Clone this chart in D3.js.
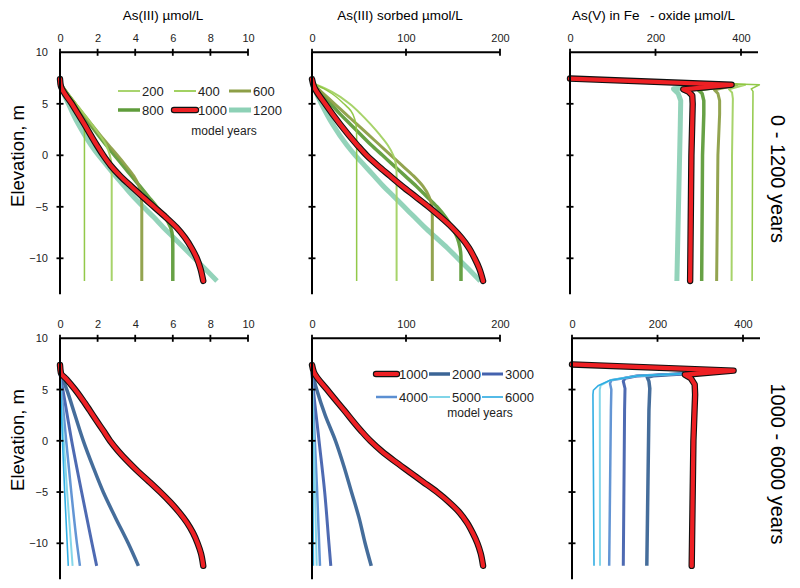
<!DOCTYPE html>
<html><head><meta charset="utf-8">
<script src="https://cdn.jsdelivr.net/npm/d3@7"></script>
<style>
html,body{margin:0;padding:0;background:#fff;}
svg{display:block;font-family:"Liberation Sans",Arial,sans-serif;}
</style></head>
<body>
<svg id="c" width="800" height="588"></svg>
<script>
// ---------- data ----------
const yearsEarly = [200, 400, 600, 800, 1000, 1200];
const yearsLate = [1000, 2000, 3000, 4000, 5000, 6000];
const elevTicks = [10, 5, 0, -5, -10];
const as3Ticks = [0, 2, 4, 6, 8, 10];
const sorbTicks = [0, 100, 200];
const feTicks = [0, 200, 400];

// [elevation m, value] pairs, one array per model year (order = yearsEarly)
const as3Early = [
  [[7.0,0],[6,0.42],[5,0.82],[4,1.12],[3,1.26],[2.2,1.3],[-12.2,1.3]],
  [[7.0,0],[6,0.42],[5,0.85],[4,1.28],[3,1.7],[2,2.1],[1,2.45],[0,2.65],[-1,2.74],[-2,2.75],[-12.2,2.75]],
  [[7.0,0],[6,0.4],[5,0.82],[4,1.25],[3,1.68],[2,2.12],[1,2.58],[0,3.05],[-1,3.5],[-2,3.92],[-3,4.2],[-4,4.32],[-5,4.35],[-12.2,4.35]],
  [[7.0,0],[6,0.38],[5,0.78],[4,1.18],[3,1.6],[2,2.02],[1,2.45],[0,2.9],[-1,3.35],[-2,3.8],[-3,4.25],[-4,4.7],[-5,5.15],[-6,5.58],[-7,5.88],[-8,5.99],[-9,6.0],[-12.2,6.0]],
  [[7.4,0],[6.7,0.05],[5,0.63],[3,1.3],[1,1.95],[0,2.3],[-1,2.7],[-2,3.2],[-3,3.78],[-4,4.38],[-5,5.0],[-6,5.62],[-7,6.2],[-8,6.65],[-9,7.0],[-10,7.28],[-11,7.47],[-12.2,7.62]],
  [[7.0,0],[6,0.2],[5,0.45],[4,0.7],[3,0.98],[2,1.3],[1,1.65],[0,2.05],[-1,2.5],[-2,2.95],[-3,3.42],[-4,3.9],[-5,4.43],[-6,4.98],[-7,5.5],[-8,6.05],[-9,6.6],[-10,7.15],[-11,7.7],[-12.2,8.35]]
];
const sorbEarly = [
  [[7,0],[6.5,12],[6,21],[5,34],[4.3,41.5],[3.5,45.5],[2.5,47.3],[1.5,47.5],[-12.2,47.5]],
  [[7,0],[6.5,14],[5.8,28],[5,40],[4,52],[3,62.5],[2,72],[1,80.5],[0,86.5],[-1,89.5],[-2,90],[-12.2,90]],
  [[7,0],[6,12],[5,24],[4,36],[3,48],[2,60],[1,72],[0,84],[-1,96],[-2,108],[-3,118],[-4,124.5],[-5,127.5],[-6,128],[-12.2,128]],
  [[7,0],[6,10],[5,20],[4,30],[3,41],[2,52],[1,63],[0,75],[-1,87],[-2,99],[-3,111],[-4,122],[-5,133],[-6,142],[-7,149],[-8,154.5],[-9,157.5],[-10,158.5],[-12.2,158.5]],
  [[7.4,0],[6.7,2],[5,14],[3,30],[1,48],[0,58],[-1,70],[-2,83],[-3,96],[-4,110],[-5,124],[-6,137],[-7,149],[-8,159],[-9,167],[-10,173],[-11,178],[-12.2,182]],
  [[7,0],[5,10],[3,22],[1,37],[0,46],[-1,56],[-2,66],[-3,76],[-4,87],[-5,98],[-6,109],[-7,120],[-8,132],[-9,144],[-10,155],[-11,166],[-12.2,179]]
];
const feEarly = [
  [[7.45,0],[6.85,443],[6.45,424],[6.2,428],[5.6,428],[0,427],[-12.2,426]],
  [[7.45,0],[6.85,410],[6.4,372],[6.1,379],[5.5,381],[0,379],[-12.2,378]],
  [[7.45,0],[6.85,390],[6.35,338],[6.0,346],[5.3,350],[4,350],[0,346],[-12.2,343]],
  [[7.45,0],[6.85,382],[6.35,300],[6.0,309],[5.3,313],[4,313],[0,310],[-12.2,308]],
  [[7.45,0],[6.85,378],[6.4,265],[6.15,278],[5.8,286],[5,287],[0,284],[-12.2,281]],
  [[7.45,0],[6.85,375],[6.45,242],[6.0,253],[5.3,259],[3,258],[-12.2,250]]
];
// order = yearsLate
const as3Late = [
  [[7.4,0],[6.6,0.05],[6,0.35],[5,0.8],[4,1.2],[3,1.57],[2,1.93],[1,2.3],[0,2.66],[-1,3.1],[-2,3.6],[-3,4.15],[-4,4.75],[-5,5.33],[-6,5.87],[-7,6.35],[-8,6.76],[-9,7.08],[-10,7.32],[-11,7.5],[-12.2,7.62]],
  [[6.7,0],[5,0.36],[2.5,0.8],[0,1.24],[-2.5,1.75],[-5,2.3],[-7.5,2.95],[-10,3.63],[-12.2,4.17]],
  [[6.5,0],[5,0.15],[0,0.62],[-5,1.15],[-10,1.7],[-12.2,1.95]],
  [[6.5,0],[0,0.33],[-5,0.6],[-10,0.9],[-12.2,1.06]],
  [[6.5,0],[0,0.2],[-5,0.38],[-12.2,0.67]],
  [[6.5,0],[0,0.13],[-5,0.25],[-12.2,0.44]]
];
const sorbLate = [
  [[7.4,0],[6.7,2],[5,16],[3,34],[1,52],[0,62],[-1,74],[-2,88],[-3,103],[-4,118],[-5,133],[-6,146],[-7,157],[-8,165],[-9,171],[-10,176],[-11,179.5],[-12.2,182]],
  [[6.7,0],[5,5],[2.5,14],[0,25],[-2.5,34],[-5,42],[-7.5,50],[-10,56.5],[-12.2,63]],
  [[6.6,0],[5,1.5],[0,7.5],[-5,13.5],[-10,18],[-12.2,20]],
  [[6.5,0],[0,3],[-5,5.5],[-12.2,8.5]],
  [[6.5,0],[0,2],[-5,3.2],[-12.2,5]],
  [[6.5,0],[0,0.6],[-12.2,1.5]]
];
const feLate = [
  [[7.45,0],[6.85,378],[6.45,264],[6.1,278],[5.5,287],[4.5,288],[0,284],[-12.2,280]],
  [[6.55,262],[6.35,190],[6.2,176],[5.8,180],[5.1,182],[3,180],[-12.2,175]],
  [[6.55,262],[6.33,151],[6.1,124],[5.8,120],[5.1,124],[3,123],[-12.2,120]],
  [[6.55,262],[6.33,151],[5.9,92],[5.6,89],[5.0,92],[3,91],[-12.2,87]],
  [[6.55,262],[6.33,151],[5.9,89],[5.4,67],[5.0,65],[-12.2,65.5]],
  [[6.55,262],[6.33,151],[5.9,89],[5.4,62],[4.93,50],[4.5,49],[-12.2,51.5]]
];

// ---------- styles ----------
const style = {
  200: {c:"#8cc63f", w:1.5}, 400: {c:"#a2d162", w:2}, 600: {c:"#8d9f47", w:3},
  800: {c:"#5f9c3b", w:3.5}, 1000: {c:"#ee2024", w:4.2, outline:true}, 1200: {c:"#8dd1b6", w:5},
  2000: {c:"#3b6596", w:3.5}, 3000: {c:"#4462ae", w:3}, 4000: {c:"#5b8fd2", w:2.5},
  5000: {c:"#80d5e8", w:2}, 6000: {c:"#27a9e1", w:1.6}
};

const svg = d3.select("#c");
const fontTick = 11;

function panel(opts){
  const {xDomain, xRange, axisEnd, xTicks, yRange, showYLabels, series, years, order, smooth} = opts;
  const x = d3.scaleLinear().domain(xDomain).range(xRange);
  const y = d3.scaleLinear().domain([10,-10]).range(yRange);
  const g = svg.append("g");
  const x0 = x(0), yTop = y(10), yBot = y(-13.5);
  const line = d3.line().x(d=>x(d[1])).y(d=>y(d[0]))
     .curve(smooth ? d3.curveMonotoneY : d3.curveLinear);
  order.forEach(i=>{
    const yr = years[i], s = style[yr];
    if (s.outline) {
      g.append("path").attr("d", line(series[i])).attr("fill","none")
       .attr("stroke","#111").attr("stroke-width", s.w+2.2)
       .attr("stroke-linecap","round").attr("stroke-linejoin","round");
    }
    g.append("path").attr("d", line(series[i])).attr("fill","none")
     .attr("stroke", s.c).attr("stroke-width", s.w)
     .attr("stroke-linecap", s.outline ? "round" : "butt").attr("stroke-linejoin","round")
     .attr("stroke-opacity", s.outline ? 1 : 0.95);
  });
  g.append("line").attr("x1",x0).attr("x2",axisEnd).attr("y1",yTop).attr("y2",yTop)
   .attr("stroke","#000").attr("stroke-width",2);
  g.append("line").attr("x1",x0).attr("x2",x0).attr("y1",yTop).attr("y2",yBot)
   .attr("stroke","#000").attr("stroke-width",2);
  xTicks.forEach(t=>{
    g.append("line").attr("x1",x(t)).attr("x2",x(t)).attr("y1",yTop-3.5).attr("y2",yTop+3.5)
     .attr("stroke","#000").attr("stroke-width",1.8);
  });
  const xa = d3.axisTop(x).tickValues(xTicks).tickSize(0).tickPadding(10).tickFormat(d3.format("d"));
  const gx = g.append("g").attr("transform",`translate(0,${yTop})`).call(xa);
  gx.select(".domain").remove();
  gx.selectAll("text").attr("font-size",fontTick).attr("font-family","'Liberation Sans',Arial,sans-serif").attr("fill","#222");
  elevTicks.forEach(t=>{
    if (t===10) return;
    g.append("line").attr("x1",x0-3.5).attr("x2",x0+3.5).attr("y1",y(t)).attr("y2",y(t))
     .attr("stroke","#000").attr("stroke-width",1.8);
  });
  if (showYLabels){
    const ya = d3.axisLeft(y).tickValues(elevTicks).tickSize(0).tickPadding(12).tickFormat(d3.format("d"));
    const gy = g.append("g").attr("transform",`translate(${x0},0)`).call(ya);
    gy.select(".domain").remove();
    gy.selectAll("text").attr("font-size",fontTick).attr("font-family","'Liberation Sans',Arial,sans-serif").attr("fill","#222");
  }
  return {x, y};
}

const earlyOrder = [5,3,2,1,0,4];
const lateOrder = [1,2,3,4,5,0];
const topY = [52.3, 258.3], botY = [338.3, 543.3];

panel({xDomain:[0,10], xRange:[60,248], axisEnd:248, xTicks:as3Ticks, yRange:topY, showYLabels:true,
       series:as3Early, years:yearsEarly, order:earlyOrder, smooth:true});
panel({xDomain:[0,200], xRange:[312,500], axisEnd:500, xTicks:sorbTicks, yRange:topY, showYLabels:false,
       series:sorbEarly, years:yearsEarly, order:earlyOrder, smooth:true});
panel({xDomain:[0,400], xRange:[570,741], axisEnd:758, xTicks:feTicks, yRange:topY, showYLabels:false,
       series:feEarly, years:yearsEarly, order:earlyOrder, smooth:false});
panel({xDomain:[0,10], xRange:[60,248], axisEnd:248, xTicks:as3Ticks, yRange:botY, showYLabels:true,
       series:as3Late, years:yearsLate, order:lateOrder, smooth:true});
panel({xDomain:[0,200], xRange:[312,500], axisEnd:500, xTicks:sorbTicks, yRange:botY, showYLabels:false,
       series:sorbLate, years:yearsLate, order:lateOrder, smooth:true});
panel({xDomain:[0,400], xRange:[572,743], axisEnd:760, xTicks:feTicks, yRange:botY, showYLabels:false,
       series:feLate, years:yearsLate, order:lateOrder, smooth:false});

// ---------- titles ----------
const tf = "'Liberation Sans',Arial,sans-serif";
svg.append("text").attr("x",163).attr("y",20).attr("text-anchor","middle").attr("font-size",13.5).attr("font-family",tf).text("As(III) µmol/L");
svg.append("text").attr("x",400).attr("y",20).attr("text-anchor","middle").attr("font-size",13.5).attr("font-family",tf).text("As(III) sorbed µmol/L");
svg.append("text").attr("x",572).attr("y",20).attr("font-size",13.5).attr("font-family",tf).text("As(V) in Fe");
svg.append("text").attr("x",650).attr("y",20).attr("font-size",13.5).attr("font-family",tf).text("- oxide µmol/L");

[[156,"Elevation, m"],[440,"Elevation, m"]].forEach(([cy,t])=>{
  svg.append("text").attr("transform",`translate(24,${cy}) rotate(-90)`).attr("text-anchor","middle")
    .attr("font-size",18.5).attr("font-family",tf).text(t);
});
[[179,"0 - 1200 years"],[464,"1000 - 6000 years"]].forEach(([cy,t])=>{
  svg.append("text").attr("transform",`translate(771,${cy}) rotate(90)`).attr("text-anchor","middle")
    .attr("font-size",20).attr("font-family",tf).text(t);
});

// ---------- legends ----------
function legend(years, xs, ys, lineW, noteX, noteY){
  years.forEach((yr,i)=>{
    const s = style[yr];
    const lx = xs[i%3], ly = ys[Math.floor(i/3)];
    if (s.outline){
      svg.append("line").attr("x1",lx).attr("x2",lx+lineW).attr("y1",ly).attr("y2",ly)
        .attr("stroke","#111").attr("stroke-width",s.w+2.2).attr("stroke-linecap","round");
    }
    svg.append("line").attr("x1",lx).attr("x2",lx+lineW).attr("y1",ly).attr("y2",ly)
      .attr("stroke",s.c).attr("stroke-width",s.w).attr("stroke-linecap", s.outline?"round":"butt");
    svg.append("text").attr("x",lx+lineW+2).attr("y",ly+4.5).attr("font-size",13).attr("font-family",tf).attr("fill","#222").text(yr);
  });
  svg.append("text").attr("x",noteX).attr("y",noteY).attr("text-anchor","middle").attr("font-size",12).attr("font-family",tf).attr("fill","#222").text("model years");
}
legend(yearsEarly, [118,174,229], [91,110], 22, 224, 135);
legend(yearsLate, [376,429,482], [374,397], 21, 480, 417);
</script>
</body></html>
